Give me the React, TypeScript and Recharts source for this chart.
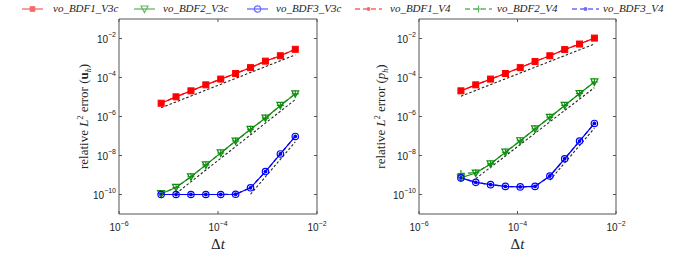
import React from 'react';
import { LineChart, Line, XAxis, YAxis } from 'recharts';

// time steps (same for both panels)
const dt = [7.1e-6, 1.42e-5, 2.84e-5, 5.68e-5, 1.136e-4, 2.27e-4, 4.54e-4, 9.09e-4, 1.82e-3, 3.64e-3];

// velocity errors
const uBDF1V3c = [4.8e-6, 1.02e-5, 2.07e-5, 4.2e-5, 8.3e-5, 1.6e-4, 3.2e-4, 6.9e-4, 1.3e-3, 2.8e-3];
const uBDF2V3c = [1.1e-10, 2.3e-10, 8.1e-10, 3.3e-9, 1.35e-8, 5.5e-8, 2.2e-7, 8.3e-7, 3.7e-6, 1.45e-5];
const uBDF3V3c = [1.0e-10, 1.0e-10, 1.0e-10, 1.0e-10, 1.0e-10, 1.03e-10, 2.2e-10, 1.5e-9, 1.2e-8, 9.5e-8];
const uBDF1V4 = [4.8e-6, 1.02e-5, 2.07e-5, 4.2e-5, 8.3e-5, 1.6e-4, 3.2e-4, 6.9e-4, 1.3e-3, 2.8e-3];
const uBDF2V4 = [1.1e-10, 2.3e-10, 8.1e-10, 3.3e-9, 1.35e-8, 5.5e-8, 2.2e-7, 8.3e-7, 3.7e-6, 1.45e-5];
const uBDF3V4 = [1.0e-10, 1.0e-10, 1.0e-10, 1.0e-10, 1.0e-10, 1.03e-10, 2.2e-10, 1.5e-9, 1.2e-8, 9.5e-8];

// pressure errors
const pBDF1V3c = [2.07e-5, 4.2e-5, 8.3e-5, 1.6e-4, 3.2e-4, 6.6e-4, 1.3e-3, 2.7e-3, 5.2e-3, 1.05e-2];
const pBDF2V3c = [7.2e-10, 1.26e-9, 3.7e-9, 1.48e-8, 5.7e-8, 2.3e-7, 9.1e-7, 3.7e-6, 1.5e-5, 5.9e-5];
const pBDF3V3c = [7.1e-10, 4.2e-10, 3.2e-10, 2.6e-10, 2.45e-10, 2.6e-10, 8.9e-10, 6.8e-9, 5.5e-8, 4.4e-7];
const pBDF1V4 = [2.07e-5, 4.2e-5, 8.3e-5, 1.6e-4, 3.2e-4, 6.6e-4, 1.3e-3, 2.7e-3, 5.2e-3, 1.05e-2];
const pBDF2V4 = [1.2e-9, 1.3e-9, 3.7e-9, 1.48e-8, 5.7e-8, 2.3e-7, 9.1e-7, 3.7e-6, 1.5e-5, 5.9e-5];
const pBDF3V4 = [7.1e-10, 4.2e-10, 3.2e-10, 2.6e-10, 2.45e-10, 2.6e-10, 8.9e-10, 6.8e-9, 5.5e-8, 4.4e-7];

// reference slopes (black dashed), value at first and last step
const refStart = [0, 1, 6];
const uRef = [[2.8e-6, 1.45e-3], [1.12e-10, 7.4e-6], [1.03e-10, 5.0e-8]];
const pRef = [[1.1e-5, 5.2e-3], [6.5e-10, 3.0e-5], [5.4e-10, 2.5e-7]];

const xTicks = [1e-6, 1e-4, 1e-2];
const yTicks = [1e-10, 1e-8, 1e-6, 1e-4, 1e-2];
const legendNames = ['vo_BDF1_V3c', 'vo_BDF2_V3c', 'vo_BDF3_V3c', 'vo_BDF1_V4', 'vo_BDF2_V4', 'vo_BDF3_V4'];

const RED = '#ff0000';
const GREEN = '#0f8f0f';
const BLUE = '#0000ff';
const AXIS = '#555';
const SANS = 'Liberation Sans, Arial, sans-serif';
const SERIF = 'Liberation Serif, Times New Roman, serif';

const pts = (ys: number[]) => ys.map((y, i) => ({ x: dt[i], y }));
const refPts = (k: number, r: number[]) => [{ x: dt[refStart[k]], y: r[0] }, { x: dt[dt.length - 1], y: r[1] }];

const Square = ({ cx, cy, color = RED, s = 3 }: any) => <rect x={cx - s} y={cy - s} width={2 * s} height={2 * s} fill={color} stroke={color} />;
const Tri = ({ cx, cy, color = GREEN }: any) => (
  <path d={`M${cx - 3.5},${cy - 3} L${cx + 3.5},${cy - 3} L${cx},${cy + 3.5} Z`} fill="none" stroke={color} strokeWidth={1.2} />
);
const Circ = ({ cx, cy, color = BLUE }: any) => <circle cx={cx} cy={cy} r={3.2} fill="none" stroke={color} strokeWidth={1.2} />;
const Dot = ({ cx, cy, color }: any) => <circle cx={cx} cy={cy} r={1.9} fill={color} />;
const Plus = ({ cx, cy, color = GREEN }: any) => (
  <path d={`M${cx - 3.5},${cy} H${cx + 3.5} M${cx},${cy - 3.5} V${cy + 3.5}`} stroke={color} strokeWidth={1.1} />
);

const sup = (v: number) => '\u2212' + Math.abs(Math.round(Math.log10(v)));

const XTick = ({ x, y, payload }: any) => (
  <g>
    <line x1={x} x2={x} y1={y} y2={y - 3} stroke={AXIS} />
    <text x={x} y={y + 17} textAnchor="middle" fontFamily={SANS} fontSize={10} fill="#222">
      10<tspan dy={-5.5} fontSize={7}>{sup(payload.value)}</tspan>
    </text>
  </g>
);
const YTick = ({ x, y, payload }: any) => (
  <g>
    <line x1={x} x2={x + 3} y1={y} y2={y} stroke={AXIS} />
    <text x={x - 3} y={y + 4} textAnchor="end" fontFamily={SANS} fontSize={10} fill="#222">
      10<tspan dy={-5.5} fontSize={7}>{sup(payload.value)}</tspan>
    </text>
  </g>
);
const TopTick = ({ x, y }: any) => <line x1={x} x2={x} y1={y} y2={y + 3} stroke={AXIS} />;
const RightTick = ({ x, y }: any) => <line x1={x} x2={x - 3} y1={y} y2={y} stroke={AXIS} />;

const YLabel = ({ viewBox, off, kind }: any) => {
  const cx = viewBox.x + viewBox.width - off + 4;
  const cy = viewBox.y + viewBox.height / 2;
  return (
    <text transform={`translate(${cx},${cy}) rotate(-90)`} textAnchor="middle" fontFamily={SERIF} fontSize={13} fill="#222">
      relative <tspan fontStyle="italic">L</tspan>
      <tspan dy={-5} fontSize={8}>2</tspan>
      <tspan dy={5}> error (</tspan>
      {kind === 'u' ? <tspan fontWeight="bold">u</tspan> : <tspan fontStyle="italic">p</tspan>}
      <tspan dy={2.5} fontSize={8} fontStyle="italic">h</tspan>
      <tspan dy={-2.5}>)</tspan>
    </text>
  );
};
const XLabel = ({ viewBox }: any) => (
  <text x={viewBox.x + viewBox.width / 2} y={viewBox.y + 35} textAnchor="middle" fontFamily={SERIF} fontSize={15} fill="#222">
    Δ<tspan fontStyle="italic">t</tspan>
  </text>
);

function Panel({ left, mLeft, mRight, labelOff, kind, s, refs }: any) {
  const solid = [
    { d: s[0], c: RED, M: Square },
    { d: s[1], c: GREEN, M: Tri },
    { d: s[2], c: BLUE, M: Circ },
  ];
  const dashed = [
    { d: s[3], c: RED, M: Dot },
    { d: s[4], c: GREEN, M: Plus },
    { d: s[5], c: BLUE, M: Dot },
  ];
  return (
    <div style={{ position: 'absolute', left, top: 0 }}>
      <LineChart width={340} height={254} margin={{ top: 18, right: mRight, bottom: 39, left: mLeft }}>
        <XAxis dataKey="x" type="number" scale="log" domain={[1e-6, 1e-2]} allowDataOverflow ticks={xTicks} height={1}
          tickSize={0} tickMargin={0} tickLine={false} tick={<XTick />} stroke={AXIS} label={<XLabel />} interval={0} />
        <XAxis xAxisId="top" orientation="top" dataKey="x" type="number" scale="log" domain={[1e-6, 1e-2]} allowDataOverflow
          ticks={xTicks} height={1} tickSize={0} tickMargin={0} tickLine={false} tick={<TopTick />} stroke={AXIS} interval={0} />
        <YAxis dataKey="y" type="number" scale="log" domain={[1e-11, 1e-1]} allowDataOverflow ticks={yTicks} width={1}
          tickSize={0} tickMargin={0} tickLine={false} tick={<YTick />} stroke={AXIS} interval={0}
          label={<YLabel off={labelOff} kind={kind} />} />
        <YAxis yAxisId="right" orientation="right" dataKey="y" type="number" scale="log" domain={[1e-11, 1e-1]} allowDataOverflow
          ticks={yTicks} width={1} tickSize={0} tickMargin={0} tickLine={false} tick={<RightTick />} stroke={AXIS} interval={0} />
        {refs.map((r: number[], k: number) => (
          <Line key={'r' + k} data={refPts(k, r)} dataKey="y" stroke="#222" strokeWidth={1.1} strokeDasharray="2.5 2"
            dot={false} activeDot={false} isAnimationActive={false} />
        ))}
        {dashed.map((o, k) => (
          <Line key={'d' + k} data={pts(o.d)} dataKey="y" stroke={o.c} strokeWidth={1.2} strokeDasharray="4 3" activeDot={false}
            isAnimationActive={false} dot={(p: any) => <o.M key={'d' + k + '-' + p.index} cx={p.cx} cy={p.cy} color={o.c} />} />
        ))}
        {solid.map((o, k) => (
          <Line key={'s' + k} data={pts(o.d)} dataKey="y" stroke={o.c} strokeWidth={1.2} activeDot={false} isAnimationActive={false}
            dot={(p: any) => <o.M key={'s' + k + '-' + p.index} cx={p.cx} cy={p.cy} color={o.c} />} />
        ))}
      </LineChart>
    </div>
  );
}

const legendPos = [
  { x: 22, w: 21, t: 53 },
  { x: 134, w: 21, t: 163 },
  { x: 247, w: 21, t: 276 },
  { x: 355, w: 27, t: 390 },
  { x: 465, w: 27, t: 497 },
  { x: 572, w: 27, t: 603 },
];
const legendColors = ['#f36a6a', '#62b862', '#6a6aff', '#f36a6a', '#62b862', '#6a6aff'];
const legendMarks = [Square, Tri, Circ, Dot, Plus, Dot];

function Legend() {
  return (
    <>
      {legendNames.map((n, i) => {
        const p = legendPos[i];
        const M = legendMarks[i];
        return (
          <React.Fragment key={n}>
            <svg style={{ position: 'absolute', left: p.x, top: 2 }} width={p.w} height={14}>
              <line x1={0} x2={p.w} y1={7} y2={7} stroke={legendColors[i]} strokeWidth={1.3} strokeDasharray={i > 2 ? '5 3' : undefined} />
              <M cx={p.w / 2} cy={7} color={legendColors[i]} s={2.3} />
            </svg>
            <div style={{ position: 'absolute', left: p.t, top: 1, fontFamily: SERIF, fontStyle: 'italic', fontSize: 11, color: '#222', lineHeight: '15px', whiteSpace: 'nowrap' }}>
              {n}
            </div>
          </React.Fragment>
        );
      })}
    </>
  );
}

export default function App() {
  return (
    <div style={{ position: 'absolute', left: 0, top: 0, width: 680, height: 254, background: '#fff', overflow: 'hidden' }}>
      <Panel left={0} mLeft={118} mRight={22} labelOff={35} kind="u"
        s={[uBDF1V3c, uBDF2V3c, uBDF3V3c, uBDF1V4, uBDF2V4, uBDF3V4]} refs={uRef} />
      <Panel left={340} mLeft={78} mRight={63} labelOff={38} kind="p"
        s={[pBDF1V3c, pBDF2V3c, pBDF3V3c, pBDF1V4, pBDF2V4, pBDF3V4]} refs={pRef} />
      <Legend />
    </div>
  );
}
